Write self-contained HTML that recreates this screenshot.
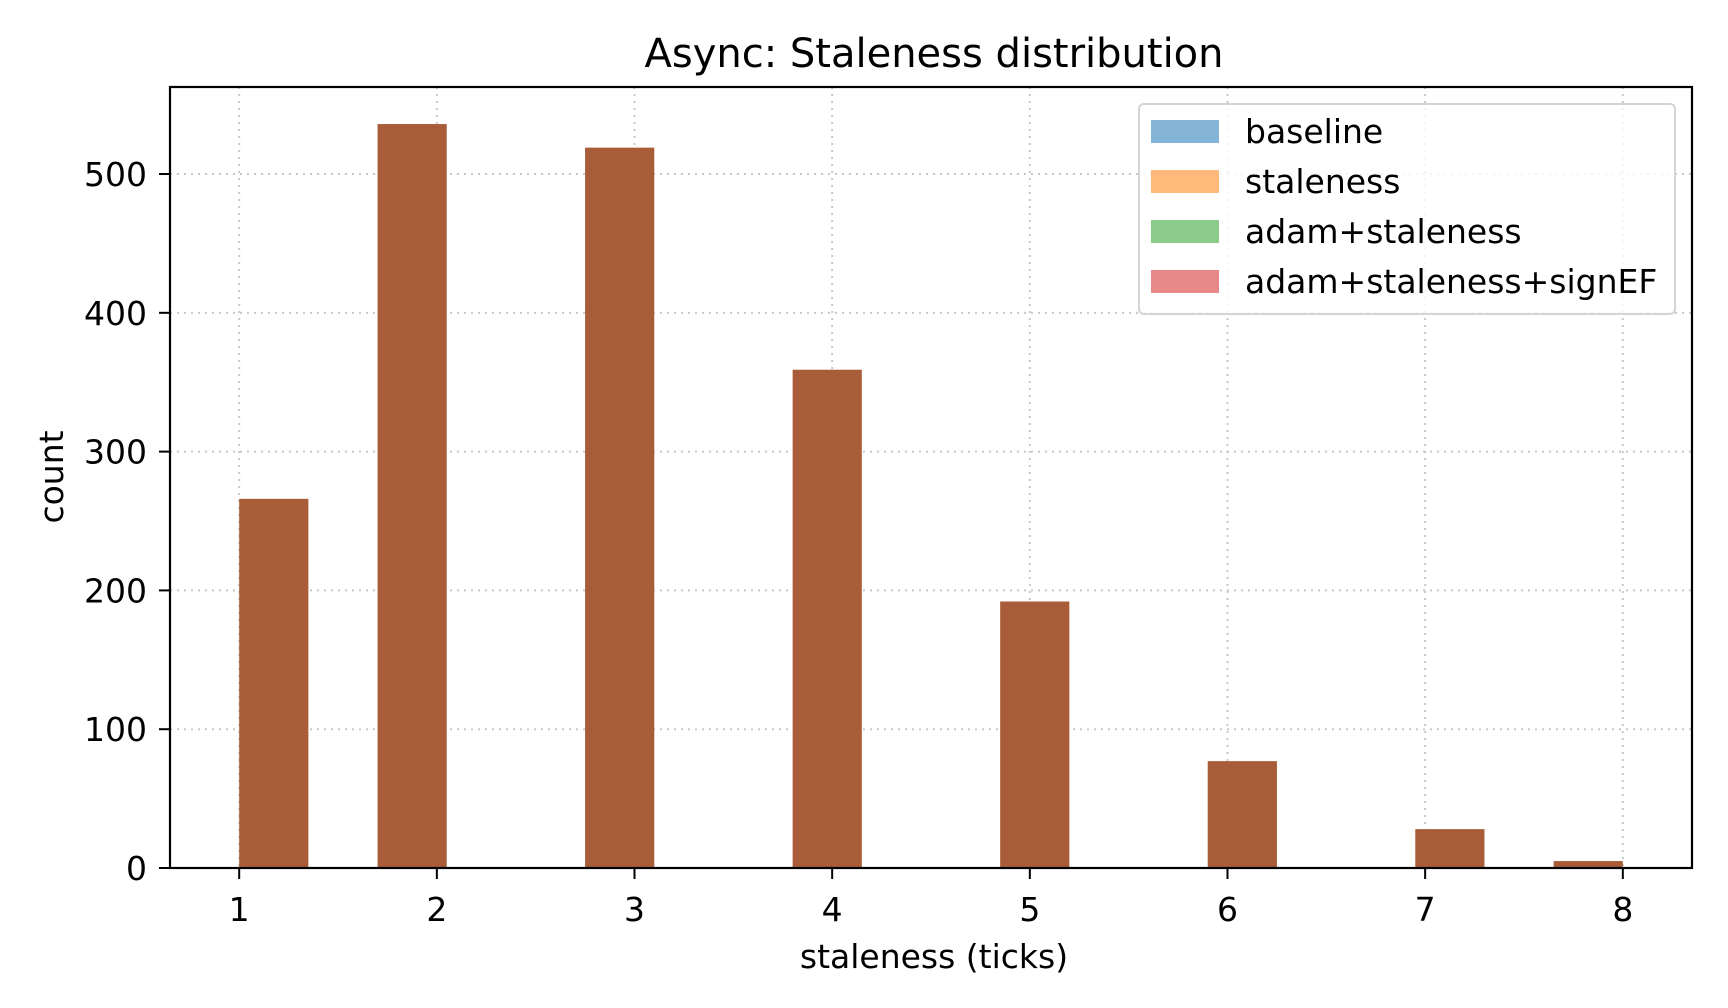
<!DOCTYPE html>
<html><head><meta charset="utf-8"><style>
body{margin:0;background:#fff}
svg{display:block;font-family:"DejaVu Sans","Liberation Sans",sans-serif}
</style></head><body>
<svg id="chart" width="1728" height="1008" viewBox="0 0 1728 1008" xmlns="http://www.w3.org/2000/svg">
<rect width="1728" height="1008" fill="#fff"/>
<text x="934" y="67" font-size="40" text-anchor="middle">Async: Staleness distribution</text>
<g id="grid"></g>
<g id="bars"></g>
<g id="axes"></g>
<text x="934" y="968" font-size="33" text-anchor="middle">staleness (ticks)</text>
<text transform="translate(63,477) rotate(-90)" font-size="33" text-anchor="middle">count</text>
<g>
<rect x="1139" y="104" width="536" height="210" rx="5" fill="#fff" fill-opacity="0.8" stroke="#d5d5d5" stroke-width="2"/>
<rect x="1151" y="120" width="68" height="23" fill="#1f77b4" fill-opacity="0.55"/>
<text x="1245" y="143" font-size="33">baseline</text>
<rect x="1151" y="170" width="68" height="23" fill="#ff7f0e" fill-opacity="0.55"/>
<text x="1245" y="193" font-size="33">staleness</text>
<rect x="1151" y="220" width="68" height="23" fill="#2ca02c" fill-opacity="0.55"/>
<text x="1245" y="243" font-size="33">adam+staleness</text>
<rect x="1151" y="270" width="68" height="23" fill="#d62728" fill-opacity="0.55"/>
<text x="1245" y="293" font-size="33">adam+staleness+signEF</text>
</g>
</svg>
<script>
const stalenessValues = [1, 2, 3, 4, 5, 6, 7, 8];
const counts = [266, 536, 519, 359, 192, 77, 28, 5];
const xTicks = [1, 2, 3, 4, 5, 6, 7, 8];
const yTicks = [0, 100, 200, 300, 400, 500];
const binStart = 1, binEnd = 8, binCount = 20;

const L = 170, R = 1692, T = 87, B = 868;
const xMin = 0.65, xMax = 8.35, yMax = 562.7;
const xs = v => L + (v - xMin) / (xMax - xMin) * (R - L);
const ys = v => B - v / yMax * (B - T);
const NS = "http://www.w3.org/2000/svg";
function mk(tag, attrs, parent) {
  const e = document.createElementNS(NS, tag);
  for (const k in attrs) e.setAttribute(k, attrs[k]);
  parent.appendChild(e);
  return e;
}
const grid = document.getElementById('grid');
const bars = document.getElementById('bars');
const axes = document.getElementById('axes');

xTicks.forEach(t => {
  const g = mk('line', {x1: xs(t), x2: xs(t), y1: T, y2: B, stroke: '#c8c8c8', 'stroke-width': 2, 'stroke-dasharray': '2,5'}, grid);
  
  
});
yTicks.forEach(t => {
  const g = mk('line', {x1: L, x2: R, y1: ys(t), y2: ys(t), stroke: '#c8c8c8', 'stroke-width': 2, 'stroke-dasharray': '2,5'}, grid);
  
  
});

const bw = (binEnd - binStart) / binCount;
stalenessValues.forEach((v, i) => {
  let k = Math.min(binCount - 1, Math.floor((v - binStart) / bw + 1e-9));
  const x0 = binStart + k * bw, x1 = x0 + bw;
  const r = mk('rect', {x: xs(x0), y: ys(counts[i]), width: xs(x1) - xs(x0), height: ys(0) - ys(counts[i]), fill: '#a85c37'}, bars);
  
  
});

const frame = mk('rect', {x: L, y: T, width: R - L, height: B - T, fill: 'none', stroke: '#000', 'stroke-width': 2.2}, axes);


xTicks.forEach(t => {
  const tk = mk('line', {x1: xs(t), x2: xs(t), y1: B, y2: B + 11, stroke: '#000', 'stroke-width': 2}, axes);
  
  
  const lb = mk('text', {x: xs(t), y: 921, 'font-size': 33, 'text-anchor': 'middle'}, axes);
  lb.textContent = t;
  
  
});
yTicks.forEach(t => {
  const tk = mk('line', {x1: L - 11, x2: L, y1: ys(t), y2: ys(t), stroke: '#000', 'stroke-width': 2}, axes);
  
  
  const lb = mk('text', {x: 147, y: ys(t) + 12, 'font-size': 33, 'text-anchor': 'end'}, axes);
  lb.textContent = t;
  
  
});
</script>
</body></html>
